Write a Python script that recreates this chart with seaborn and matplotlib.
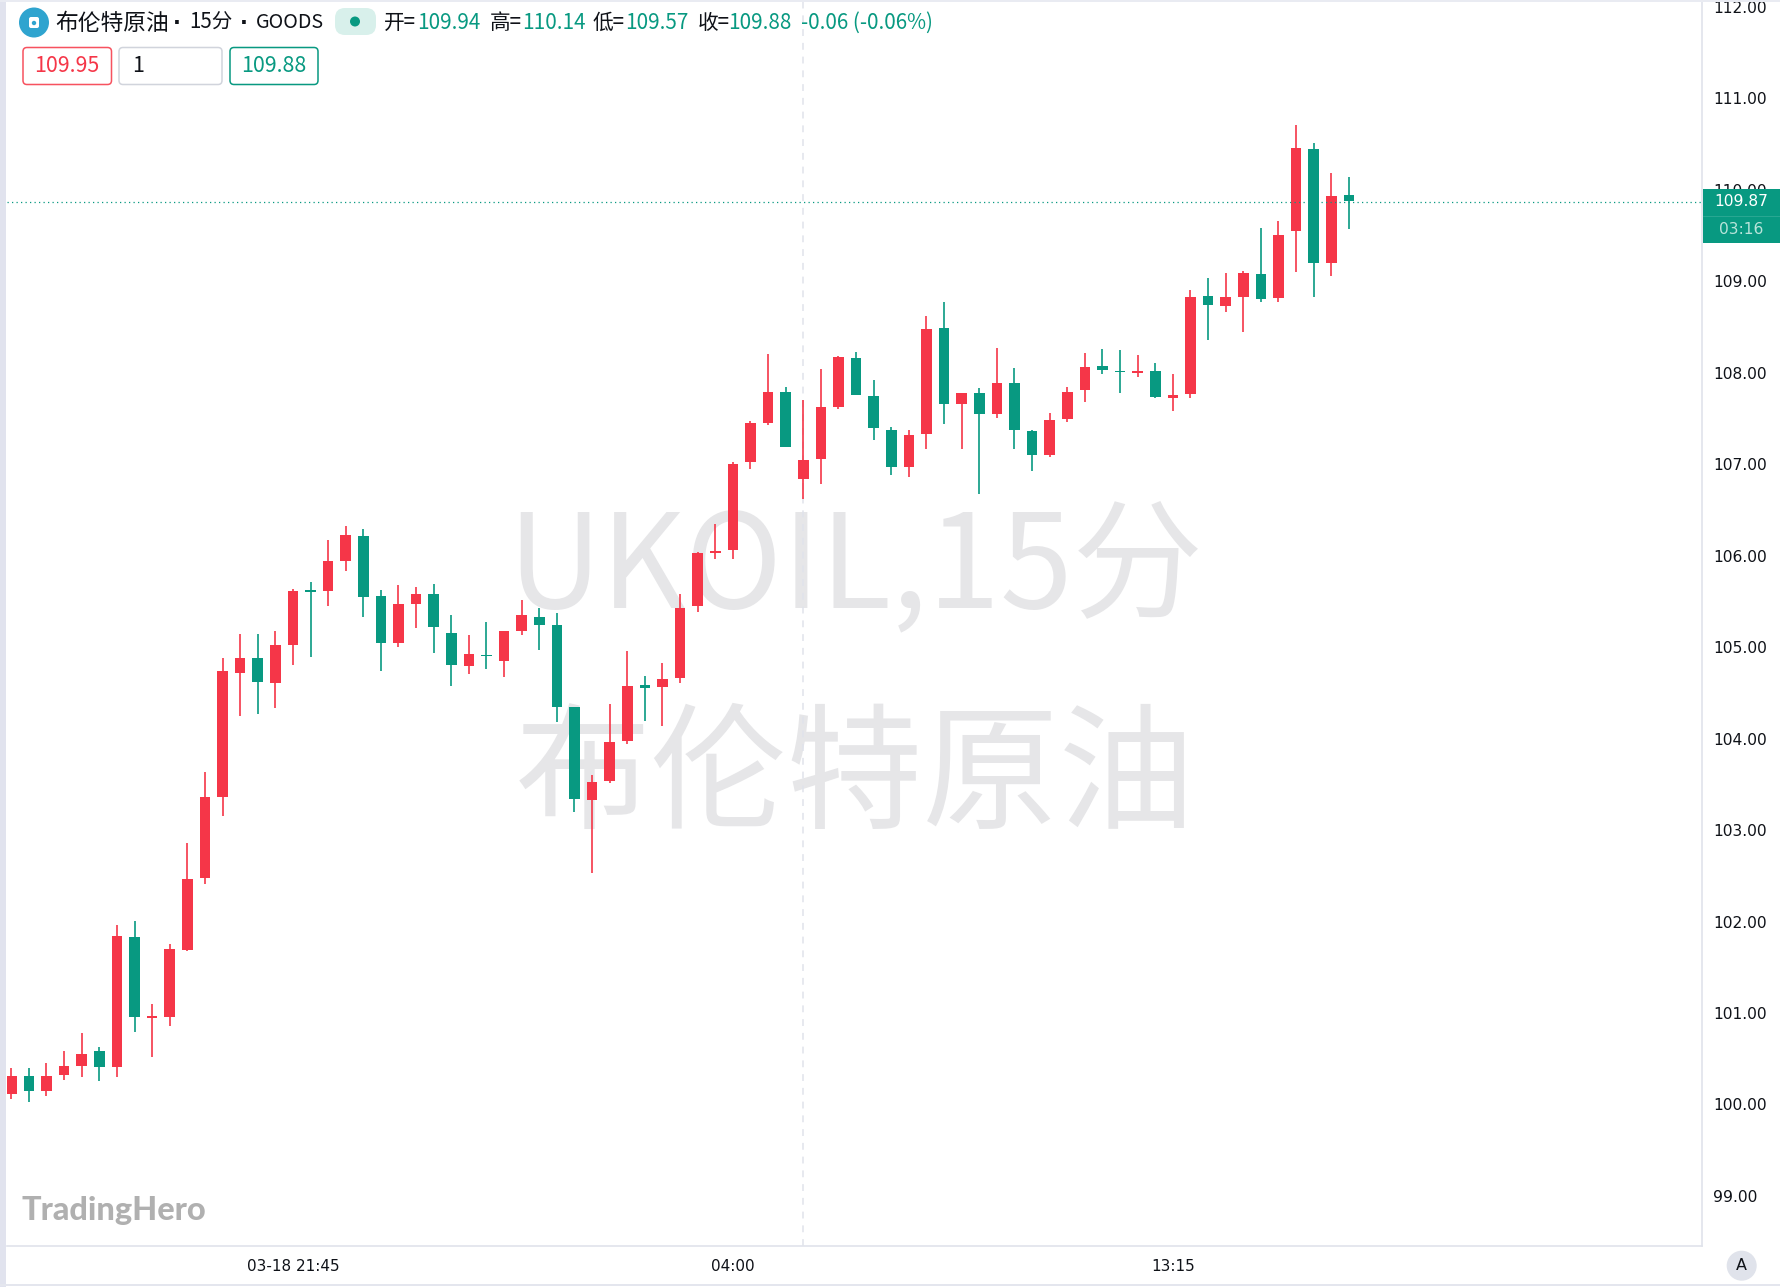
import numpy as np
import pandas as pd
import matplotlib
matplotlib.use("Agg")
import matplotlib.pyplot as plt
from matplotlib.patches import FancyBboxPatch, Rectangle, Circle
from matplotlib.lines import Line2D
import seaborn as sns

opens = [100.12,100.31,100.15,100.32,100.42,100.59,100.41,101.83,100.95,100.96,
         101.69,102.48,103.36,104.72,104.88,104.61,105.02,105.62,105.61,105.94,
         106.22,105.56,105.05,105.47,105.58,105.16,104.79,104.92,104.85,105.18,
         105.33,105.24,104.35,103.33,103.54,103.97,104.59,104.56,104.66,105.45,
         106.03,106.06,107.02,107.45,107.79,106.84,107.06,107.63,108.16,107.75,
         107.38,106.97,107.33,108.49,107.66,107.78,107.55,107.89,107.36,107.10,
         107.49,107.81,108.07,108.02,108.00,108.02,107.73,107.77,108.84,108.73,
         108.83,109.08,108.82,109.55,110.45,109.20,109.94]
highs = [100.40,100.40,100.45,100.59,100.78,100.63,101.96,102.01,101.10,101.76,
         102.86,103.63,104.88,105.14,105.14,105.18,105.64,105.71,106.17,106.33,
         106.29,105.63,105.68,105.66,105.69,105.35,105.13,105.28,105.18,105.52,
         105.43,105.37,104.35,103.60,104.38,104.96,104.68,104.83,105.58,106.04,
         106.35,107.03,107.47,108.21,107.84,107.70,108.04,108.18,108.23,107.92,
         107.41,107.38,108.62,108.77,107.78,107.83,108.27,108.05,107.38,107.56,
         107.85,108.22,108.26,108.25,108.19,108.11,107.99,108.91,109.04,109.09,
         109.11,109.58,109.66,110.71,110.51,110.19,110.14]
lows = [100.06,100.03,100.09,100.27,100.30,100.26,100.30,100.79,100.52,100.86,
        101.68,102.41,103.15,104.25,104.27,104.34,104.80,104.89,105.45,105.83,
        105.33,104.74,105.00,105.21,104.94,104.58,104.71,104.76,104.67,105.13,
        104.97,104.18,103.20,102.53,103.51,103.94,104.19,104.14,104.61,105.38,
        105.96,105.96,106.95,107.43,107.19,106.62,106.78,107.60,107.76,107.27,
        106.88,106.86,107.17,107.44,107.17,106.68,107.51,107.17,106.93,107.08,
        107.46,107.68,107.99,107.78,107.95,107.73,107.58,107.73,108.36,108.66,
        108.45,108.77,108.77,109.10,108.83,109.06,109.57]
closes = [100.31,100.15,100.31,100.42,100.55,100.41,101.84,100.96,100.97,101.70,
          102.47,103.36,104.74,104.88,104.62,105.02,105.61,105.60,105.94,106.23,
          105.55,105.05,105.47,105.58,105.22,104.81,104.93,104.90,105.18,105.35,
          105.24,104.35,103.34,103.53,103.96,104.58,104.55,104.65,105.43,106.03,
          106.05,107.00,107.45,107.79,107.19,107.05,107.63,108.17,107.76,107.40,
          106.97,107.32,108.48,107.66,107.78,107.55,107.89,107.37,107.10,107.48,
          107.79,108.06,108.03,108.01,108.02,107.74,107.76,108.83,108.74,108.83,
          109.09,108.81,109.51,110.46,109.20,109.93,109.88]

price_ticks = [99, 100, 101, 102, 103, 104, 105, 106, 107, 108, 109, 110, 111, 112]
time_tick_pos = [16, 41, 66]
time_tick_labels = ["03-18 21:45", "04:00", "13:15"]
last_price = 109.87
crosshair_pos = 45
watermark_lines = ["UKOIL,15分", "布伦特原油"]

RED = "#f53648"
GREEN = "#089981"
GRID = "#e0e3eb"
INK = "#0f1218"
W, H = 1781, 1287
CJK = ["Noto Sans CJK SC", "DejaVu Sans"]

sns.set_theme(style="white")
plt.rcParams["font.family"] = ["DejaVu Sans"]

df = pd.DataFrame({"i": np.arange(len(opens)), "open": opens, "high": highs,
                   "low": lows, "close": closes})
df["dir"] = np.where(df["close"] >= df["open"], "up", "down")
df["top"] = df[["open", "close"]].max(axis=1)
df["bot"] = df[["open", "close"]].min(axis=1)
df["height"] = df["top"] - df["bot"]
wicks = df.melt(id_vars=["i", "dir"], value_vars=["low", "high"], value_name="price")

fig = plt.figure(figsize=(W / 100, H / 100), dpi=100, facecolor="white")
L, R, T, B = 7, 1702, 2, 1246
ax = fig.add_axes([L / W, 1 - B / H, (R - L) / W, (B - T) / H])

def pane_xy(px, py):
    return (px - L) / (R - L), 1 - (py - T) / (B - T)

for line, base, size in zip(watermark_lines, [607, 818], [94, 98]):
    x, y = pane_xy(855, base)
    ax.text(x, y, line, transform=ax.transAxes, family=CJK, fontsize=size,
            color="#e6e6e8", ha="center", va="baseline", zorder=0)

sns.lineplot(data=wicks, x="i", y="price", units="i", estimator=None, hue="dir",
             palette={"up": RED, "down": GREEN}, linewidth=1.2, legend=False,
             solid_capstyle="butt", ax=ax, zorder=2)
for d, c in [("up", RED), ("down", GREEN)]:
    sub = df[df["dir"] == d]
    sns.barplot(x=sub["i"].to_numpy(), y=sub["height"].to_numpy(),
                bottom=sub["bot"].to_numpy(), native_scale=True, color=c,
                saturation=1, width=0.61, errorbar=None, linewidth=0, ax=ax, zorder=3)

ax.axvline(crosshair_pos, color=GRID, lw=1.1, dashes=(4.5, 4.5), zorder=1)
ax.axhline(last_price, color=GREEN, lw=0.9, dashes=(1, 2.6), zorder=4)

ax.set_xlim((L - 11.3) / 17.6, (R - 11.3) / 17.6)
ax.set_ylim(112.0765 - B * 0.010934, 112.0765 - T * 0.010934)
ax.set_xlabel("")
ax.set_ylabel("")
ax.yaxis.tick_right()
ax.set_yticks(price_ticks)
ax.set_yticklabels([f"{p:.2f}" for p in price_ticks])
ax.set_xticks(time_tick_pos)
ax.set_xticklabels(time_tick_labels)
ax.tick_params(axis="y", length=0, pad=8, labelsize=11.2, labelcolor=INK)
ax.tick_params(axis="x", length=0, pad=9.2, labelsize=11.0, labelcolor=INK)
for s in ["top", "left"]:
    ax.spines[s].set_visible(False)
for s in ["right", "bottom"]:
    ax.spines[s].set_color(GRID)
    ax.spines[s].set_linewidth(1.2)
ax.grid(False)

ov = fig.add_axes([0, 0, 1, 1], facecolor="none")
ov.set_xlim(0, W)
ov.set_ylim(H, 0)
ov.axis("off")

ov.add_patch(Rectangle((0, 0), 6, H, color="#e1e3ee", lw=0))
ov.add_patch(Rectangle((0, 0), W, 2, color="#e9ebf2", lw=0))
ov.add_patch(Rectangle((0, 1283.5), W, 2, color="#e4e6ee", lw=0))
ov.add_patch(Rectangle((W - 1, 0), 1, H, color="#e9ebf2", lw=0))

ov.add_patch(Rectangle((1703, 189), 77, 54, color=GREEN, lw=0))
ov.add_line(Line2D([1703, 1780], [215.5, 215.5], color="#2aa893", lw=0.7))
ov.text(1741, 201.5, "109.87", color="white", fontsize=11.2, ha="center", va="center")
ov.text(1741, 229, "03:16", color="#b8e4da", fontsize=11.2, ha="center", va="center")

ov.add_patch(Circle((1741.7, 1265.7), 15, color=GRID, lw=0))
ov.text(1741.7, 1266, "A", color=INK, fontsize=11.5, ha="center", va="center")

ov.add_patch(Circle((34, 22.5), 15, color="#2fa4cf", lw=0))
ov.add_patch(FancyBboxPatch((29, 17), 10, 11, boxstyle="round,pad=0,rounding_size=2",
                            color="white", lw=0))
ov.add_patch(Circle((34, 23), 2.2, color="#2fa4cf", lw=0))
title_pieces = [(55, "布伦特原油", 16.4), (189, "15分", 14.8), (256, "GOODS", 14.2)]
for x, s, size in title_pieces:
    ov.text(x, 23, s, family=CJK, fontsize=size, color=INK, ha="left", va="center")
for x in [177, 244]:
    ov.text(x, 23, "·", family="DejaVu Sans", fontweight="bold", fontsize=15, color=INK,
            ha="center", va="center")
ov.add_patch(FancyBboxPatch((335, 8), 41, 27, boxstyle="round,pad=0,rounding_size=10",
                            color="#d8f0eb", lw=0))
ov.add_patch(Circle((355, 21.5), 5, color=GREEN, lw=0))
legend_pieces = [(384, "开=", INK), (417, "109.94", GREEN), (490, "高=", INK),
                 (522, "110.14", GREEN), (593, "低=", INK), (625, "109.57", GREEN),
                 (698, "收=", INK), (728, "109.88", GREEN), (801, "-0.06 (-0.06%)", GREEN)]
for x, s, c in legend_pieces:
    ov.text(x, 23, s, family=CJK, fontsize=14.9, color=c, ha="left", va="center")

for x0, x1, ec in [(23, 111.5, "#f7525f"), (119, 222, "#d1d4dc"), (230, 318, GREEN)]:
    ov.add_patch(FancyBboxPatch((x0, 47.5), x1 - x0, 37, boxstyle="round,pad=0,rounding_size=4",
                                fc="white", ec=ec, lw=1.1))
ov.text(67, 66, "109.95", family=CJK, fontsize=15.4, color=RED, ha="center", va="center")
ov.text(132, 66.5, "1", family=CJK, fontsize=15.4, color=INK, ha="left", va="center")
ov.text(274, 66, "109.88", family=CJK, fontsize=15.4, color=GREEN, ha="center", va="center")

ov.text(22, 1220, "TradingHero", family="Lato", fontweight="black", fontsize=23.4,
        color="#b0b0b0", ha="left", va="baseline")

fig.savefig("out.png", dpi=100)
